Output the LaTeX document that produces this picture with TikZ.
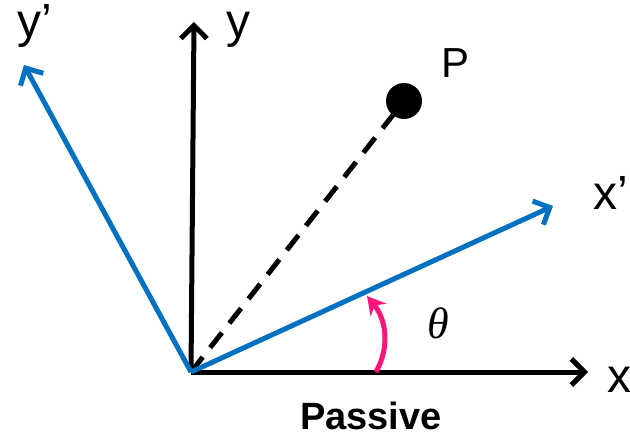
\documentclass[tikz,border=0pt]{standalone}
\usepackage{fontspec}
\setmainfont{Liberation Sans}
\newfontfamily\thetafont{Liberation Serif}
\usetikzlibrary{arrows.meta}
\definecolor{axblue}{RGB}{0,112,192}
\definecolor{angpink}{RGB}{255,20,120}
\tikzset{
  axis/.style={line width=5pt,-{Straight Barb[length=13pt,width=26pt]}},
  lbl/.style={inner sep=0pt,anchor=base west,font=\fontsize{48}{48}\selectfont},
}
\begin{document}
\begin{tikzpicture}[x=1pt,y=-1pt]
\useasboundingbox (0,0) rectangle (630,436);
\coordinate (O) at (191,372);
\coordinate (X) at (588,372);
\coordinate (Y) at (194,22);
\coordinate (Xp) at (553,206);
\coordinate (Yp) at (24,65);
\node[circle,fill=black,minimum size=36pt,inner sep=0pt] (P) at (404,101) {};
% dashed line to P
\draw[line width=5pt,dash pattern=on 19pt off 12pt] (O) -- (P.center);
% axes
\draw[axis] (O) -- (X);
\draw[axis] (O) -- (Y);
\draw[axis,axblue] (O) -- (Xp);
\draw[axis,axblue] (O) -- (Yp);
% angle arrow
\coordinate (A0) at (376,372);
\coordinate (A1) at (367,296);
\draw[line width=5pt,angpink,-{Stealth[length=18pt,width=20pt]}] (A0) .. controls (391,345) and (385,318) .. (A1);
% labels
\node[lbl] (lx) at (607,392) {x};
\node[lbl] (lxp) at (593,209) {x’};
\node[lbl] (ly) at (226,38) {y};
\node[lbl] (lyp) at (17,38) {y’};
\node[lbl,font=\fontsize{42}{42}\selectfont] (lp) at (441,78) {P};
\node[inner sep=0pt,font=\fontsize{44}{44}\selectfont\thetafont\itshape] (th) at (438,323) {θ};
\node[inner sep=0pt,anchor=base,font=\fontsize{38}{38}\selectfont\bfseries] (pas) at (371,429) {Passive};
\end{tikzpicture}
\end{document}
